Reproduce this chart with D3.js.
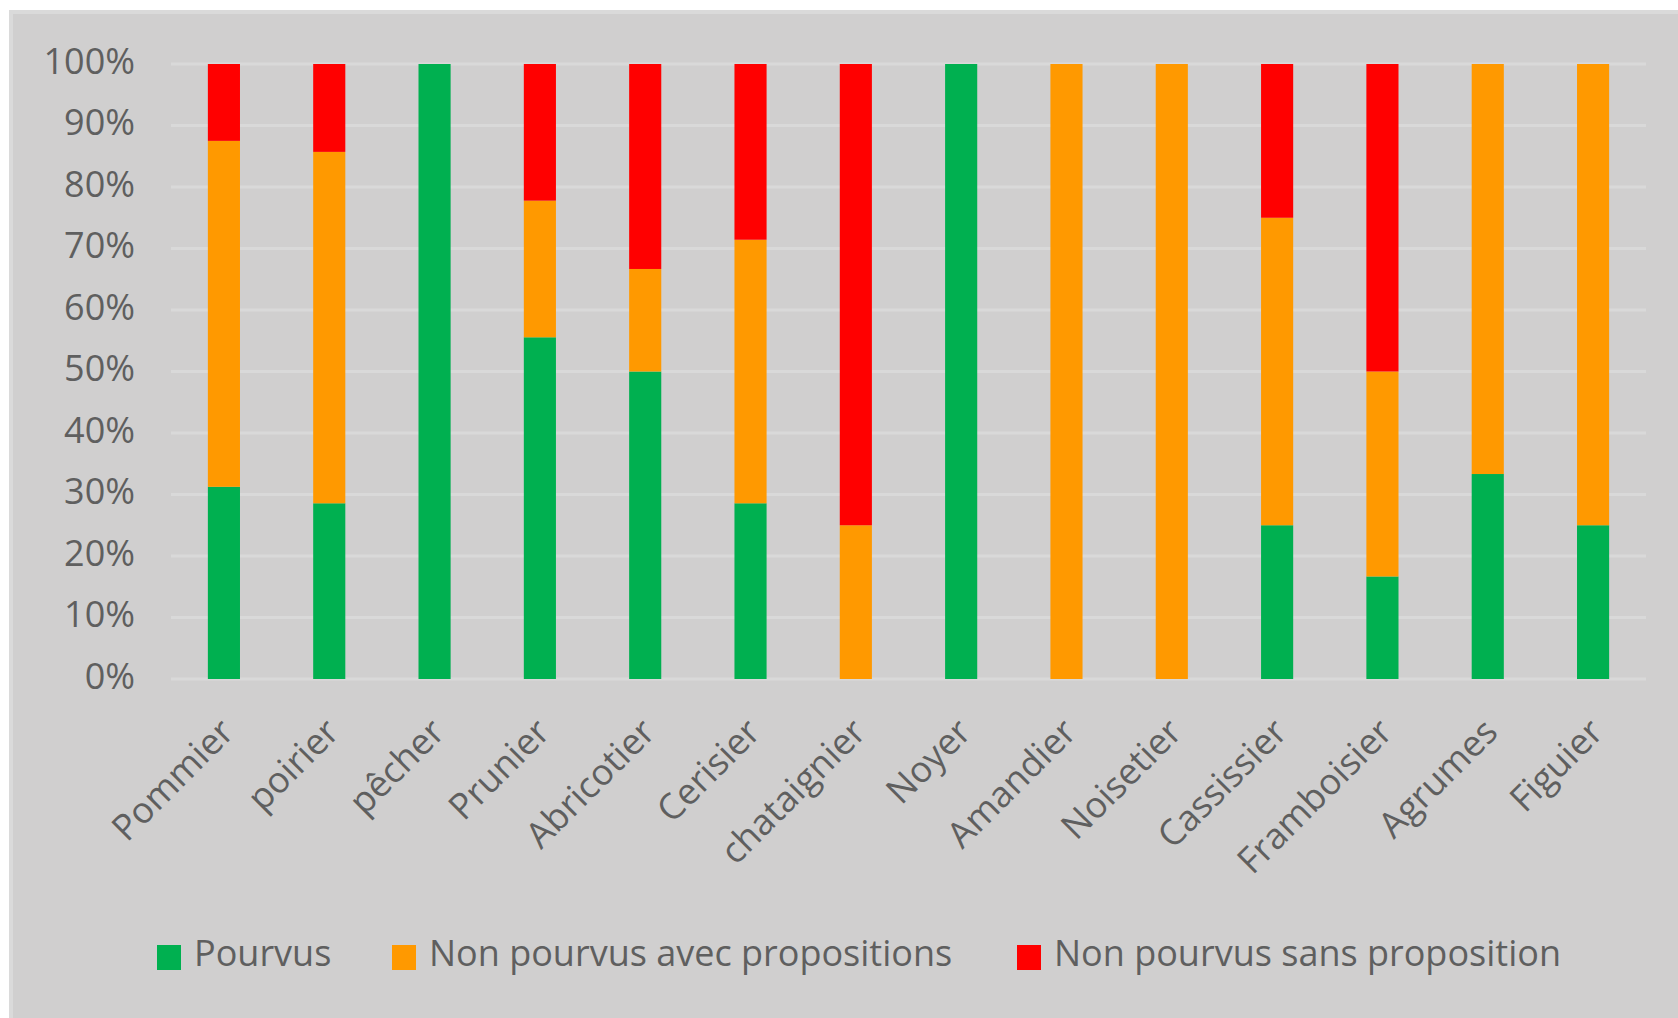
<!DOCTYPE html>
<html>
<head>
<meta charset="utf-8">
<script src="https://d3js.org/d3.v7.min.js"></script>
<style>
  body { margin: 0; background: #ffffff; }
  svg { display: block; }
</style>
</head>
<body>
<script>
// categories (x axis)
var categories = ["Pommier", "poirier", "pêcher", "Prunier", "Abricotier", "Cerisier",
  "chataignier", "Noyer", "Amandier", "Noisetier", "Cassissier", "Framboisier", "Agrumes", "Figuier"];

// series values, in % of each column
var pourvus      = [31.25, 28.57, 100, 55.56, 50,    28.57, 0,  100, 0,   0,   25, 16.67, 33.33, 25];
var avecProp     = [56.25, 57.14, 0,   22.22, 16.67, 42.86, 25, 0,   100, 100, 50, 33.33, 66.67, 75];
var sansProp     = [12.5,  14.29, 0,   22.22, 33.33, 28.57, 75, 0,   0,   0,   25, 50,    0,     0];

var seriesNames  = ["Pourvus", "Non pourvus avec propositions", "Non pourvus sans proposition"];
var seriesColors = ["#00b050", "#ff9900", "#ff0000"];

var yTicks = [0, 10, 20, 30, 40, 50, 60, 70, 80, 90, 100];

var W = 1678, H = 1018;
var font = "'Open Sans', 'DejaVu Sans', sans-serif";
var textColor = "#5f5f5f";

var svg = d3.select("body").append("svg")
  .attr("width", W)
  .attr("height", H);

// chart area background + light border
svg.append("rect")
  .attr("x", 9).attr("y", 10)
  .attr("width", W - 9).attr("height", H - 10)
  .attr("fill", "#dadada");
svg.append("rect")
  .attr("x", 13).attr("y", 14)
  .attr("width", W - 13).attr("height", H - 14)
  .attr("fill", "#d0cfcf");

// scales
var x = d3.scaleBand()
  .domain(categories)
  .range([171, 1646])
  .paddingInner(0.695)
  .paddingOuter(0.35);

var y = d3.scaleLinear()
  .domain([0, 100])
  .range([679, 64]);

// gridlines
svg.append("g")
  .selectAll("line")
  .data(yTicks)
  .enter()
  .append("line")
  .attr("x1", 171)
  .attr("x2", 1646)
  .attr("y1", function(d){ return y(d); })
  .attr("y2", function(d){ return y(d); })
  .attr("stroke", "#d9d9d9")
  .attr("stroke-width", 3);

// y labels
svg.append("g")
  .selectAll("text")
  .data(yTicks)
  .enter()
  .append("text")
  .attr("x", 135)
  .attr("y", function(d){ return y(d) - 4; })
  .attr("dominant-baseline", "central")
  .attr("text-anchor", "end")
  .style("font-family", font)
  .style("font-size", "36px")
  .style("fill", textColor)
  .text(function(d){ return d + "%"; });

// stack the data
var table = categories.map(function(c, i){
  return { cat: c, s0: pourvus[i], s1: avecProp[i], s2: sansProp[i] };
});
var stacked = d3.stack().keys(["s0", "s1", "s2"])(table);

// bars
var layers = svg.append("g")
  .selectAll("g")
  .data(stacked)
  .enter()
  .append("g")
  .attr("fill", function(d, i){ return seriesColors[i]; });

layers.selectAll("rect")
  .data(function(d){ return d; })
  .enter()
  .append("rect")
  .attr("x", function(d){ return x(d.data.cat); })
  .attr("width", x.bandwidth())
  .attr("y", function(d){ return y(d[1]); })
  .attr("height", function(d){ return y(d[0]) - y(d[1]); });

// x labels, rotated
svg.append("g")
  .selectAll("text")
  .data(categories)
  .enter()
  .append("text")
  .attr("transform", function(d){
    var cx = x(d) + x.bandwidth() / 2 + 12;
    return "translate(" + cx + ",734) rotate(-45)";
  })
  .attr("text-anchor", "end")
  .style("font-family", font)
  .style("font-size", "36px")
  .style("fill", textColor)
  .text(function(d){ return d; });

// legend
var legendX = [157, 392, 1017];
var legend = svg.append("g")
  .selectAll("g")
  .data(seriesNames)
  .enter()
  .append("g")
  .attr("transform", function(d, i){ return "translate(" + legendX[i] + ",945)"; });

legend.append("rect")
  .attr("width", 24)
  .attr("height", 25)
  .attr("fill", function(d, i){ return seriesColors[i]; });

legend.append("text")
  .attr("x", 37)
  .attr("y", 21)
  .style("font-family", font)
  .style("font-size", "36px")
  .style("fill", textColor)
  .text(function(d){ return d; });
</script>
</body>
</html>
